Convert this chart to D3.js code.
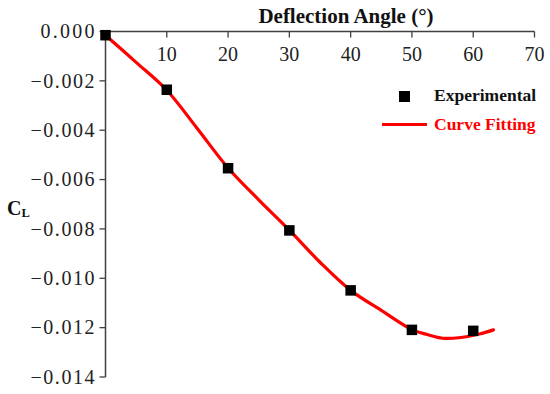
<!DOCTYPE html>
<html>
<head>
<meta charset="utf-8">
<script src="https://cdn.jsdelivr.net/npm/d3@7"></script>
<style>
  html, body { margin: 0; padding: 0; background: #fff; }
  svg { display: block; }
</style>
</head>
<body>
<svg id="chart" width="550" height="394"></svg>
<script>
// ---- data ----
const expAngles = [0, 10, 20, 30, 40, 50, 60];
const expValues = [-0.00015, -0.00236, -0.00554, -0.00806, -0.01049, -0.01209, -0.01213];
const fitAngles = [0, 5, 10, 15, 20, 25, 30, 35, 40, 45, 50, 52.5, 55, 58, 61, 63.3];
const fitValues = [-0.00015, -0.00125, -0.00238, -0.00394, -0.00553, -0.00682, -0.00805, -0.00935, -0.01049, -0.01130, -0.01208, -0.01228, -0.01243, -0.01240, -0.01226, -0.01209];
const xTicks = [10, 20, 30, 40, 50, 60, 70];
const yTicks = [0, -0.002, -0.004, -0.006, -0.008, -0.010, -0.012, -0.014];
const xTitle = "Deflection Angle (°)";
const legendLabels = ["Experimental", "Curve Fitting"];

// ---- layout ----
const svg = d3.select("#chart");
const x = d3.scaleLinear().domain([0, 70]).range([105.5, 534.5]);
const y = d3.scaleLinear().domain([0, -0.014]).range([31.5, 377]);
const axisColor = "#404040";
const serif = "'Liberation Serif', 'DejaVu Serif', serif";

// x axis (top, ticks pointing inward/down)
const xAxis = svg.append("g");
xAxis.append("line")
  .attr("x1", x(0)).attr("x2", x(70))
  .attr("y1", y(0)).attr("y2", y(0))
  .attr("stroke", axisColor).attr("stroke-width", 1.5);
xAxis.selectAll("line.tick").data(xTicks).join("line")
  .attr("class", "tick")
  .attr("x1", d => x(d)).attr("x2", d => x(d))
  .attr("y1", y(0)).attr("y2", y(0) + 6)
  .attr("stroke", axisColor).attr("stroke-width", 1.3);
xAxis.selectAll("text").data(xTicks).join("text")
  .attr("x", d => x(d)).attr("y", 61)
  .attr("text-anchor", "middle")
  .attr("font-family", serif).attr("font-size", 20)
  .attr("fill", "#222")
  .text(d => d);

// y axis (left, ticks pointing outward)
const fmt = d3.format(".3f");
const yAxis = svg.append("g");
yAxis.append("line")
  .attr("x1", x(0)).attr("x2", x(0))
  .attr("y1", y(0)).attr("y2", y(-0.014))
  .attr("stroke", axisColor).attr("stroke-width", 1.5);
yAxis.selectAll("line.tick").data(yTicks).join("line")
  .attr("class", "tick")
  .attr("x1", x(0) - 6).attr("x2", x(0))
  .attr("y1", d => y(d)).attr("y2", d => y(d))
  .attr("stroke", axisColor).attr("stroke-width", 1.3);
yAxis.selectAll("text").data(yTicks).join("text")
  .attr("x", 94.5).attr("y", d => y(d))
  .attr("dy", "0.34em")
  .attr("text-anchor", "end")
  .attr("font-family", serif).attr("font-size", 20)
  .attr("fill", "#222")
  .attr("textLength", d => d === 0 ? 54 : 64)
  .attr("lengthAdjust", "spacing")
  .text(d => (d === 0 ? "0.000" : "\u2212" + fmt(-d)));

// axis titles
svg.append("text")
  .attr("x", 346).attr("y", 23)
  .attr("text-anchor", "middle")
  .attr("font-family", serif).attr("font-weight", "bold").attr("font-size", 21)
  .attr("fill", "#111")
  .text(xTitle);

const yl = svg.append("text")
  .attr("x", 7).attr("y", 215)
  .attr("font-family", serif).attr("font-weight", "bold").attr("font-size", 20)
  .attr("fill", "#111");
yl.append("tspan").text("C");
yl.append("tspan").attr("font-size", 12.5).attr("dy", 2).text("L");

// fitted curve
const line = d3.line()
  .x((d, i) => x(fitAngles[i]))
  .y(d => y(d))
  .curve(d3.curveCatmullRom.alpha(0.5));
svg.append("path")
  .datum(fitValues)
  .attr("d", line)
  .attr("fill", "none")
  .attr("stroke", "#ff0000")
  .attr("stroke-width", 3.2)
  .attr("stroke-linejoin", "round")
  .attr("stroke-linecap", "round");

// experimental squares
const sz = 10.5;
svg.selectAll("rect.exp").data(expValues).join("rect")
  .attr("class", "exp")
  .attr("x", (d, i) => x(expAngles[i]) - sz / 2)
  .attr("y", d => y(d) - sz / 2)
  .attr("width", sz).attr("height", sz)
  .attr("fill", "#000");

// legend
const lg = svg.append("g");
lg.append("rect")
  .attr("x", 399).attr("y", 91).attr("width", 11).attr("height", 11)
  .attr("fill", "#000");
lg.append("text")
  .attr("x", 434).attr("y", 101)
  .attr("font-family", serif).attr("font-weight", "bold").attr("font-size", 17.5)
  .attr("fill", "#111")
  .text(legendLabels[0]);
lg.append("line")
  .attr("x1", 382).attr("x2", 427).attr("y1", 124.5).attr("y2", 124.5)
  .attr("stroke", "#ff0000").attr("stroke-width", 3);
lg.append("text")
  .attr("x", 434).attr("y", 130)
  .attr("font-family", serif).attr("font-weight", "bold").attr("font-size", 17.5)
  .attr("fill", "#ff0000")
  .text(legendLabels[1]);
</script>
</body>
</html>
